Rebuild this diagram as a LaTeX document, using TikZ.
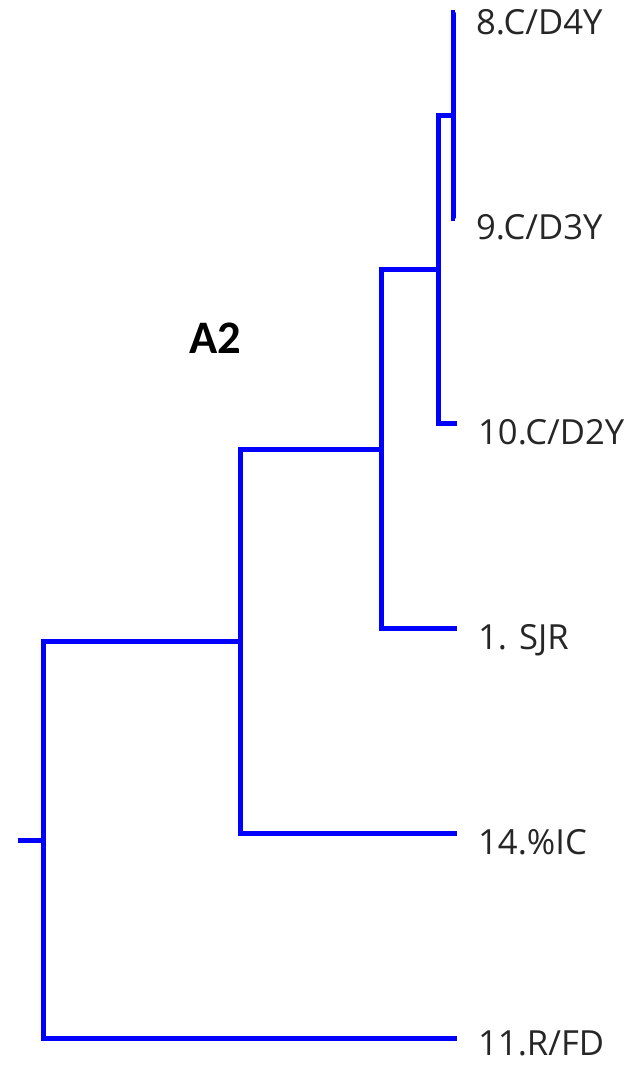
\documentclass[tikz,border=0pt]{standalone}
\usepackage{fontspec}
\setmainfont{Open Sans}
\newfontfamily\titlefont{Carlito}
\usepackage{tikz}
\usetikzlibrary{positioning}

\begin{document}
\begin{tikzpicture}[x=1pt, y=-1pt,
    link/.style={draw=blue, line width=5pt},
    leaf/.style={text=black!85, inner sep=0pt, text height=24.9pt, text depth=0pt,
        font=\fontsize{34.6}{40}\selectfont},
    tag/.style={inner sep=0pt, text height=30pt, text depth=0pt,
        font=\titlefont\bfseries\fontsize{46.6}{50}\selectfont}]

    \useasboundingbox (0,0) rectangle (640,1065);

    % leaves
    \coordinate (l8)  at (455,13);
    \coordinate (l9)  at (455,218);
    \coordinate (l10) at (457,423);
    \coordinate (l1)  at (457,628);
    \coordinate (l14) at (457,833);
    \coordinate (l11) at (457,1038);

    % joins
    \coordinate (n89)  at (453,115.5);
    \coordinate (n10)  at (438,269);
    \coordinate (n1)   at (381,449);
    \coordinate (n14)  at (240,641);
    \coordinate (root) at (43,840);
    \coordinate (stub) at (18,840);

    \node [leaf, right=21pt of l8,  yshift=-9pt] (t8)  {8.C/D4Y};
    \node [leaf, right=21pt of l9,  yshift=-9pt] (t9)  {9.C/D3Y};
    \node [leaf, right=21pt of l10, yshift=-9pt] (t10) {10.C/D2Y};
    \node [leaf, right=21pt of l1,  yshift=-9pt] (t1)  {1. SJR};
    \node [leaf, right=21pt of l14, yshift=-9pt] (t14) {14.\%IC};
    \node [leaf, right=21pt of l11, yshift=-5pt] (t11) {11.R/FD};

    \node [tag] (a2) at (215,338) {A2};

    \path [link] (n89) |- (l8);
    \path [link] (n89) |- (l9);
    \path [link] (n10) |- (n89);
    \path [link] (n10) |- (l10);
    \path [link] (n1) |- (n10);
    \path [link] (n1) |- (l1);
    \path [link] (n14) |- (n1);
    \path [link] (n14) |- (l14);
    \path [link] (root) |- (n14);
    \path [link] (root) |- (l11);
    \path [link] (stub) -- (root);
\end{tikzpicture}
\end{document}
